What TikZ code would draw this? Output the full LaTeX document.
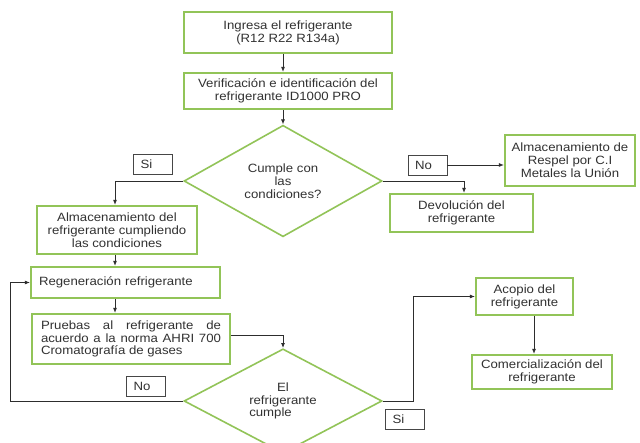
\documentclass[tikz,border=0pt]{standalone}
\usepackage{fontspec}
\setmainfont{Liberation Sans}[FakeStretch=1.1]
\usetikzlibrary{shapes.geometric,arrows.meta,calc}
\definecolor{boxgreen}{RGB}{146,196,88}
\definecolor{linegray}{RGB}{45,45,45}
\definecolor{lblgray}{RGB}{70,70,70}
\definecolor{txtgray}{RGB}{50,50,50}
\begin{document}
\begin{tikzpicture}[x=1pt,y=-1pt,
  font=\fontsize{12}{12.8}\selectfont,
  gbox/.style={draw=boxgreen, line width=2.2pt, fill=white, inner sep=2pt, align=center, text=txtgray},
  lbl/.style={draw=lblgray, line width=0.8pt, text width=25pt, inner xsep=7pt, minimum height=20pt, align=left, text=txtgray},
  dia/.style={diamond, draw=boxgreen, line width=1.6pt, inner sep=0pt, minimum width=198pt, minimum height=92pt, align=center, text=txtgray},
  conn/.style={draw=linegray, line width=0.9pt, -{Latex[length=5pt,width=4pt]}}
]
\useasboundingbox (0,0) rectangle (640,443);
\fill[white] (0,0) rectangle (640,443);

\coordinate (col) at (115,0);
\coordinate (devcol) at (464,0);
\coordinate (loopx) at (10,0);
\coordinate (sicol) at (413,0);
\coordinate (acol) at (534,0);

\node[gbox, minimum width=208pt, minimum height=41pt] (b1) at (288,32.5) {Ingresa el refrigerante\\(R12 R22 R134a)};
\node[gbox, minimum width=208pt, minimum height=36pt] (b2) at (288,91) {Verificación e identificación del\\refrigerante ID1000 PRO};
\node[dia] (d1) at (283,181) {Cumple con\\las\\condiciones?};
\node[lbl] (si1) at (153,164) {Si};
\node[lbl] (no1) at (427.5,165) {No};
\node[gbox, minimum width=130pt, minimum height=51pt] (resp) at (570,160.5) {Almacenamiento de\\Respel por C.I\\Metales la Unión};
\node[gbox, minimum width=143pt, minimum height=38pt] (dev) at (461.5,213) {Devolución del\\refrigerante};
\node[gbox, minimum width=160pt, minimum height=48pt] (b3) at (117,230) {Almacenamiento del\\refrigerante cumpliendo\\las condiciones};
\node[gbox, minimum width=189pt, minimum height=31pt, text width=173pt, align=left] (b4) at (125.5,282.5) {Regeneración refrigerante};
\node[gbox, minimum width=198pt, minimum height=50pt, text width=180pt, align=justify] (b5) at (131,339) {Pruebas al refrigerante de\linebreak acuerdo a la norma AHRI 700\linebreak Cromatografía de gases};
\node[lbl] (no2) at (146,386) {No};
\node[dia, minimum height=86pt] (d2) at (283,401) {El\\refrigerante\\\makebox[0pt][l]{cumple}\hphantom{refrigerante}};
\node[lbl] (si2) at (405,419.5) {Si};
\node[gbox, minimum width=97pt, minimum height=37pt] (aco) at (524.5,296.5) {Acopio del\\refrigerante};
\node[gbox, minimum width=140pt, minimum height=34pt] (com) at (542,372) {Comercialización del\\refrigerante};

\draw[conn] (b1.south -| d1.north) -- (b2.north -| d1.north);
\draw[conn] (b2.south -| d1.north) -- (d1.north);
\draw[conn] (d1.west) -| (col |- b3.north);
\draw[conn] (d1.east) -| (devcol |- dev.north);
\draw[conn] (no1.east) -- (no1.east -| resp.west);
\draw[conn] (col |- b3.south) -- (col |- b4.north);
\draw[conn] (col |- b4.south) -- (col |- b5.north);
\draw[conn] ([yshift=4pt]b5.east) -| (d2.north);
\draw[conn] (d2.west) -- (loopx |- d2.west) -- (loopx |- b4.west) -- (b4.west);
\draw[conn] (d2.east) -- (sicol |- d2.east) |- (aco.west);
\draw[conn] (acol |- aco.south) -- (acol |- com.north);
\end{tikzpicture}
\end{document}
